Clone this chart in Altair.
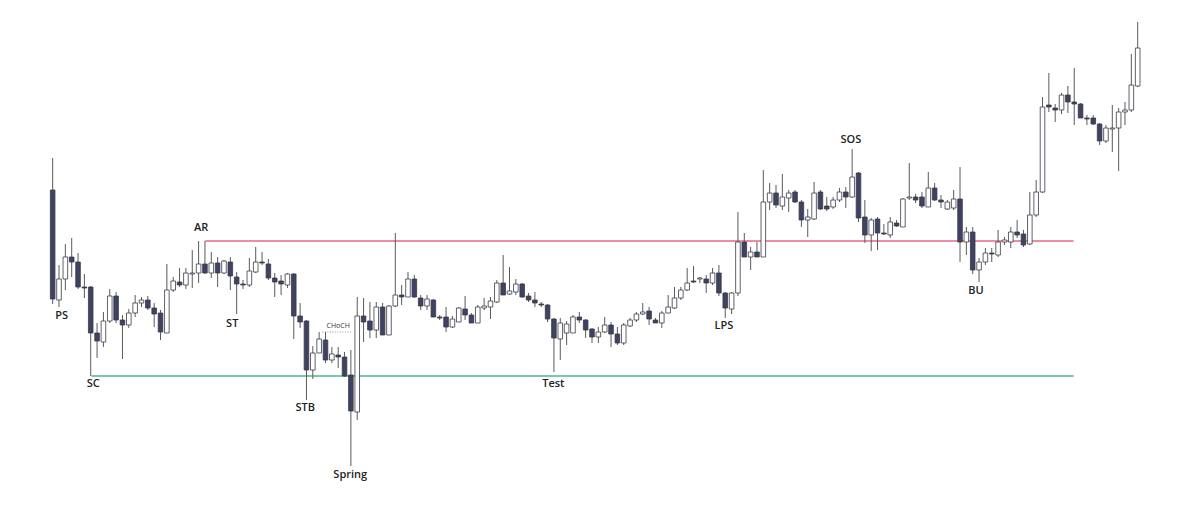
import altair as alt
import pandas as pd

opens = [310,200,221,243,238,213,213,167,158,179,
         204,180,175,187,197,200,192,187,167,210,
         218,215,226,227,236,227,237,227,238,223,
         216,215,228,238,236,222,219,215,226,184,
         179,130,147,160,140,145,143,125,88,184,
         179,170,193,165,194,205,203,221,202,194,
         200,183,183,173,178,191,185,177,192,193,
         198,217,206,208,216,204,200,196,195,181,
         161,167,167,183,180,171,163,168,175,166,
         157,174,180,186,189,180,177,187,192,202,
         210,219,221,221,217,227,207,191,207,258,
         243,248,243,298,307,294,302,308,298,280,
         281,308,294,293,300,308,303,327,283,265,
         281,267,265,277,273,302,303,303,293,312,
         300,291,292,301,258,268,230,238,247,245,
         258,258,268,266,256,285,308,395,392,390,
         405,398,396,382,382,376,359,371,372,388,
         390,414]
closes = [201,221,243,238,213,212,167,159,179,204,
          180,175,187,197,200,192,186,168,210,219,
          215,227,227,236,227,237,227,239,224,216,
          215,229,238,237,222,218,216,226,184,178,
          130,147,161,140,146,143,124,89,184,178,
          170,193,165,194,205,203,221,203,194,201,
          183,182,173,181,192,185,177,193,194,199,
          217,205,209,216,203,200,197,195,181,162,
          177,176,183,180,170,163,168,175,166,157,
          175,180,186,188,181,177,187,193,202,210,
          217,218,222,217,227,207,192,207,258,243,
          248,243,298,307,295,303,307,298,280,283,
          307,291,291,300,308,303,323,282,265,280,
          267,266,278,274,301,303,300,294,312,300,
          298,298,301,258,268,230,238,247,246,258,
          260,268,265,255,285,308,393,393,390,405,
          398,396,382,381,376,359,372,372,388,390,
          415,452]
highs = [342,235,256,262,247,226,214,177,188,211,
         208,185,191,205,203,204,197,190,236,223,
         232,232,250,259,259,248,243,240,243,228,
         220,242,253,248,241,227,225,227,227,197,
         180,154,168,168,153,153,148,150,203,202,
         198,198,197,195,267,215,228,225,205,205,
         201,185,193,184,193,204,187,195,202,203,
         220,245,233,221,217,207,208,198,196,182,
         182,179,185,188,181,172,173,183,178,173,
         177,182,188,197,193,182,189,205,213,213,
         232,234,223,225,232,235,208,208,288,267,
         253,258,330,317,315,326,310,310,300,291,
         318,310,303,303,312,313,351,328,300,282,
         283,276,283,280,302,337,306,308,328,317,
         305,300,310,333,273,273,242,252,252,270,
         263,273,280,270,308,320,403,427,396,407,
         414,432,397,385,385,377,375,395,392,398,
         446,478]
lows = [196,193,210,223,211,202,124,142,153,177,
        177,141,172,183,193,190,173,160,167,208,
        213,211,212,217,226,222,213,226,210,186,
        211,213,227,235,220,203,205,212,161,172,
        100,121,147,137,137,132,123,34,80,158,
        162,162,165,165,193,195,203,202,190,190,
        183,180,168,172,178,180,177,177,190,181,
        197,205,205,205,202,198,193,193,178,128,
        140,155,167,177,162,157,157,167,153,155,
        155,173,178,185,175,177,172,187,191,200,
        209,217,217,207,215,204,182,186,204,243,
        230,243,243,290,292,290,288,297,273,263,
        280,290,289,291,298,292,302,278,257,249,
        250,265,262,273,273,300,297,292,293,299,
        292,290,290,238,245,226,218,235,238,243,
        255,252,262,253,255,283,307,388,378,386,
        387,375,382,375,375,355,357,348,329,375,
        388,413]

# Horizontal levels
level_names = ["resistance", "support"]
level_price = [259, 124]
level_start = [24.06, 6.1]
level_end = [160.9, 160.9]

# Wyckoff labels
label_text = ["PS", "SC", "AR", "ST", "STB", "Spring", "Test", "LPS", "SOS", "BU"]
label_x = [1.4, 6.4, 23.4, 28.3, 39.8, 46.9, 78.9, 105.8, 125.8, 145.5]
label_y = [184, 116, 272, 176, 92, 25, 116, 174, 360, 209]

choch_text = ["CHoCH"]
choch_x = [45.0]
choch_y = [174]
choch_line_x = [42.5]
choch_line_x2 = [47.2]
choch_line_y = [168]

df = pd.DataFrame({
    "i": list(range(len(opens))),
    "open": opens, "close": closes, "high": highs, "low": lows,
})
df["dir"] = ["up" if c >= o else "down" for o, c in zip(opens, closes)]

xs = alt.Scale(domain=[-6.25, 176.25], nice=False, zero=False)
ys = alt.Scale(domain=[-5, 492], nice=False, zero=False)

base = alt.Chart(df)
wicks = base.mark_rule(color="#5a5a5a", strokeWidth=1).encode(
    x=alt.X("i:Q", scale=xs, axis=None),
    y=alt.Y("low:Q", scale=ys, axis=None),
    y2="high:Q",
)
bodies = base.mark_bar(size=4.6, stroke="#3a3a48", strokeWidth=0.8).encode(
    x=alt.X("i:Q", scale=xs, axis=None),
    y=alt.Y("open:Q", scale=ys, axis=None),
    y2="close:Q",
    fill=alt.Fill("dir:N", scale=alt.Scale(domain=["up", "down"], range=["#ffffff", "#3e4263"]), legend=None),
)

lv = pd.DataFrame({"name": level_names, "p": level_price, "x0": level_start, "x1": level_end})
levels = alt.Chart(lv).mark_rule(strokeWidth=2).encode(
    x=alt.X("x0:Q", scale=xs, axis=None),
    x2="x1:Q",
    y=alt.Y("p:Q", scale=ys, axis=None),
    color=alt.Color("name:N", scale=alt.Scale(domain=level_names, range=["#f08ba6", "#7cc6ab"]), legend=None),
)

lb = pd.DataFrame({"t": label_text, "x": label_x, "y": label_y})
labels = alt.Chart(lb).mark_text(font="Open Sans", fontSize=11, fontWeight=600, color="#222222", baseline="middle").encode(
    x=alt.X("x:Q", scale=xs, axis=None),
    y=alt.Y("y:Q", scale=ys, axis=None),
    text="t:N",
)

cb = pd.DataFrame({"t": choch_text, "x": choch_x, "y": choch_y})
choch = alt.Chart(cb).mark_text(font="Open Sans", fontSize=7, color="#333333", baseline="middle").encode(
    x=alt.X("x:Q", scale=xs, axis=None),
    y=alt.Y("y:Q", scale=ys, axis=None),
    text="t:N",
)
cl = pd.DataFrame({"x": choch_line_x, "x2": choch_line_x2, "y": choch_line_y})
choch_line = alt.Chart(cl).mark_rule(color="#9a9a9a", strokeWidth=1, strokeDash=[1, 1.5]).encode(
    x=alt.X("x:Q", scale=xs, axis=None),
    x2="x2:Q",
    y=alt.Y("y:Q", scale=ys, axis=None),
)

chart = alt.layer(levels, choch_line, wicks, bodies, labels, choch).properties(
    width=1168, height=497, autosize=alt.AutoSizeParams(type="none"), padding=0,
    background="#ffffff",
).configure_view(stroke=None)

chart.save("out.html", embed_options={"renderer": "svg", "actions": False})
